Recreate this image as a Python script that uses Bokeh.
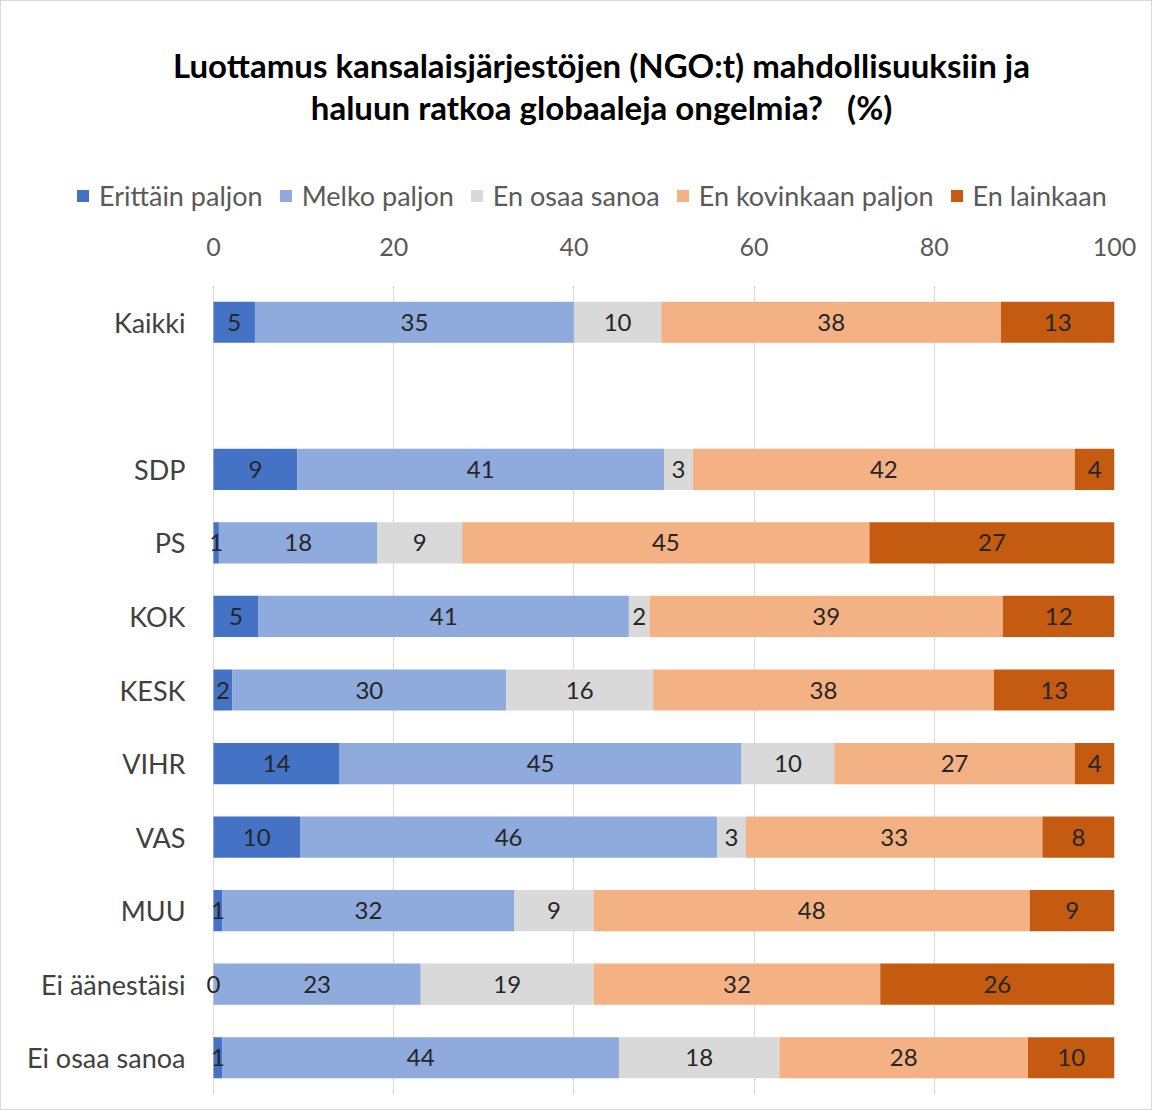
from bokeh.plotting import figure
from bokeh.layouts import column
from bokeh.models import ColumnDataSource, FactorRange, Range1d, Legend, LegendItem, Label, FixedTicker
from bokeh.core.properties import value
from bokeh.embed import file_html
from bokeh.resources import INLINE

# ---- data ----
categories = ["Kaikki", "SDP", "PS", "KOK", "KESK", "VIHR", "VAS", "MUU", "Ei äänestäisi", "Ei osaa sanoa"]
row_order = ["Kaikki", " ", "SDP", "PS", "KOK", "KESK", "VIHR", "VAS", "MUU", "Ei äänestäisi", "Ei osaa sanoa"]
series = ["Erittäin paljon", "Melko paljon", "En osaa sanoa", "En kovinkaan paljon", "En lainkaan"]
erittain_paljon = [4.6, 9.3, 0.6, 5.0, 2.1, 14.0, 9.6, 1.0, 0.0, 1.0]
melko_paljon = [35.4, 40.7, 17.6, 41.1, 30.4, 44.6, 46.3, 32.4, 23.0, 44.0]
en_osaa_sanoa = [9.7, 3.2, 9.4, 2.3, 16.3, 10.3, 3.2, 8.8, 19.2, 17.8]
en_kovinkaan = [37.7, 42.4, 45.2, 39.2, 37.8, 26.7, 32.9, 48.4, 31.8, 27.6]
en_lainkaan = [12.6, 4.4, 27.2, 12.4, 13.4, 4.4, 8.0, 9.4, 26.0, 9.6]
x_ticks = [0, 20, 40, 60, 80, 100]
title_lines = ["Luottamus kansalaisjärjestöjen (NGO:t) mahdollisuuksiin ja",
               "haluun ratkoa globaaleja ongelmia?\u00a0\u00a0\u00a0(%)"]
colors = ["#4472C4", "#8FAADC", "#D9D9D9", "#F4B183", "#C55A11"]

FONT = "Lato"
values_by_series = [erittain_paljon, melko_paljon, en_osaa_sanoa, en_kovinkaan, en_lainkaan]
data = {"cat": categories}
for name, vals in zip(series, values_by_series):
    data[name] = vals
src = ColumnDataSource(data)

# label positions (segment centres)
lx, ly, lt = [], [], []
for i, cat in enumerate(categories):
    left = 0.0
    for vals in values_by_series:
        v = vals[i]
        lx.append(left + v / 2.0)
        ly.append(cat)
        lt.append(str(int(round(v))))
        left += v
lsrc = ColumnDataSource(dict(x=lx, y=ly, t=lt))

# ---- geometry (page pixels) ----
W = 1150
HH = 230          # header height (title + legend)
HM = 878          # main chart height
FRAME_L, ZERO_X, FRAME_R = 62, 213, 1114
px_per_unit = (FRAME_R - ZERO_X) / 100.0
x_start = -(ZERO_X - FRAME_L) / px_per_unit

# ---- main chart ----
p = figure(width=W, height=HM, output_backend="svg", toolbar_location=None, title=None,
           x_range=Range1d(x_start, 100), y_range=FactorRange(factors=list(reversed(row_order))),
           x_axis_location="above",
           min_border_left=FRAME_L - 1, min_border_right=W + 1 - FRAME_R,
           min_border_top=54, min_border_bottom=15)
p.outline_line_color = None
p.background_fill_color = "white"
p.border_fill_color = "white"

p.hbar_stack(series, y="cat", height=0.56, source=src, fill_color=colors, line_color=None)

p.text(x="x", y="y", text="t", source=lsrc, text_align="center", text_baseline="middle",
       text_font=value(FONT), text_font_size="24px", text_color="#262626")

p.xaxis.ticker = FixedTicker(ticks=x_ticks)
p.xaxis.axis_line_color = None
p.xaxis.major_tick_line_color = None
p.xaxis.minor_tick_line_color = None
p.xaxis.major_tick_out = 0
p.xaxis.major_tick_in = 0
p.xaxis.major_label_standoff = 30
p.xaxis.major_label_text_font = FONT
p.xaxis.major_label_text_font_size = "25px"
p.xaxis.major_label_text_color = "#595959"

p.yaxis.axis_line_color = None
p.yaxis.major_tick_line_color = None
p.yaxis.minor_tick_line_color = None
p.yaxis.major_tick_out = 0
p.yaxis.major_tick_in = 0
p.yaxis.major_label_standoff = -(185 - FRAME_L)
p.yaxis.major_label_text_font = FONT
p.yaxis.major_label_text_font_size = "27px"
p.yaxis.major_label_text_color = "#404040"

p.xgrid.grid_line_color = "#d9d9d9"
p.xgrid.ticker = FixedTicker(ticks=x_ticks)
p.ygrid.grid_line_color = None

# ---- header: title and legend (frame aligned with the main frame; data units = page pixels) ----
head = figure(width=W, height=HH, output_backend="svg", toolbar_location=None, title=None,
              x_range=Range1d(FRAME_L, FRAME_R), y_range=Range1d(HH + 1, 1),
              x_axis_location=None, y_axis_location=None,
              min_border_left=0, min_border_right=0, min_border_top=0, min_border_bottom=0)
head.outline_line_color = None
head.xgrid.visible = False
head.ygrid.visible = False
head.border_fill_color = "white"
head.background_fill_color = "white"

for txt, yy in zip(title_lines, [64, 106]):
    head.add_layout(Label(x=601, y=yy, text=txt, text_align="center", text_baseline="middle",
                          text_font=FONT, text_font_style="bold", text_font_size="33px",
                          text_color="#000000"))

# colour keys for the legend (hidden renderers of the same series)
keys = head.hbar_stack(series, y=0, height=1, source=src, fill_color=colors,
                       line_color=None, visible=False)
legend = Legend(items=[LegendItem(label=n, renderers=[r]) for n, r in zip(series, keys)],
                orientation="horizontal", location=(75 - FRAME_L, 19),
                glyph_width=15, glyph_height=15, label_standoff=9, spacing=15,
                padding=0, margin=0, border_line_color=None, background_fill_alpha=0,
                inactive_fill_alpha=0,
                label_text_font=FONT, label_text_font_size="27px", label_text_color="#595959")
head.add_layout(legend, "center")

layout = column(head, p, spacing=0)
layout.styles = {"border": "1px solid #d9d9d9"}

open("out.html", "w").write(file_html(layout, INLINE))
